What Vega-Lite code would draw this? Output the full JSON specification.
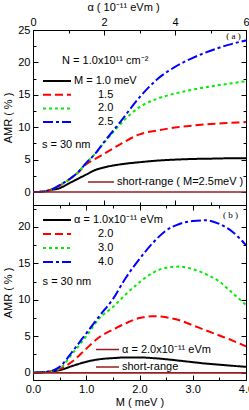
{
  "$schema": "https://vega.github.io/schema/vega-lite/v6.json",
  "padding": {"left": 2, "top": 0, "right": 0, "bottom": 0},
  "spacing": 0,
  "bounds": "flush",
  "config": {
    "font": "Liberation Sans",
    "view": {"stroke": "black", "strokeWidth": 1},
    "axis": {"labelFontSize": 11, "titleFontSize": 11, "titleFontWeight": "normal", "grid": false, "domain": false, "labelFlush": false, "labelColor": "black", "titleColor": "black", "tickColor": "black", "labelOverlap": false},
    "legend": {"labelFontSize": 11, "labelColor": "black", "padding": 0, "symbolType": "stroke", "symbolStrokeWidth": 2, "clipHeight": 11}
  },
  "vconcat": [
    {
      "width": 213,
      "height": 175,
      "layer": [
        {
          "data": {"values": [
            {"a":0,"v":0,"M":"1.0"},{"a":0.25,"v":0.05,"M":"1.0"},{"a":0.5,"v":0.3,"M":"1.0"},{"a":0.75,"v":0.6,"M":"1.0"},{"a":1,"v":1.3,"M":"1.0"},{"a":1.25,"v":2.0,"M":"1.0"},{"a":1.5,"v":2.7,"M":"1.0"},{"a":1.75,"v":3.4,"M":"1.0"},{"a":2,"v":3.8,"M":"1.0"},{"a":2.5,"v":4.3,"M":"1.0"},{"a":3,"v":4.6,"M":"1.0"},{"a":3.5,"v":4.85,"M":"1.0"},{"a":4,"v":5.0,"M":"1.0"},{"a":4.5,"v":5.1,"M":"1.0"},{"a":5,"v":5.15,"M":"1.0"},{"a":5.5,"v":5.2,"M":"1.0"},{"a":6,"v":5.2,"M":"1.0"},
            {"a":0,"v":0,"M":"1.5"},{"a":0.25,"v":0.05,"M":"1.5"},{"a":0.5,"v":0.35,"M":"1.5"},{"a":0.75,"v":1.0,"M":"1.5"},{"a":1,"v":1.85,"M":"1.5"},{"a":1.25,"v":2.9,"M":"1.5"},{"a":1.5,"v":4.3,"M":"1.5"},{"a":1.75,"v":5.1,"M":"1.5"},{"a":2,"v":5.9,"M":"1.5"},{"a":2.5,"v":7.5,"M":"1.5"},{"a":3,"v":8.9,"M":"1.5"},{"a":3.5,"v":9.5,"M":"1.5"},{"a":4,"v":9.95,"M":"1.5"},{"a":4.5,"v":10.25,"M":"1.5"},{"a":5,"v":10.5,"M":"1.5"},{"a":5.5,"v":10.65,"M":"1.5"},{"a":6,"v":10.8,"M":"1.5"},
            {"a":0,"v":0,"M":"2.0"},{"a":0.25,"v":0.05,"M":"2.0"},{"a":0.5,"v":0.35,"M":"2.0"},{"a":0.75,"v":1.05,"M":"2.0"},{"a":1,"v":1.9,"M":"2.0"},{"a":1.25,"v":2.95,"M":"2.0"},{"a":1.5,"v":4.5,"M":"2.0"},{"a":1.75,"v":5.9,"M":"2.0"},{"a":2,"v":7.6,"M":"2.0"},{"a":2.25,"v":9.2,"M":"2.0"},{"a":2.5,"v":10.7,"M":"2.0"},{"a":3,"v":13.1,"M":"2.0"},{"a":3.5,"v":14.4,"M":"2.0"},{"a":4,"v":15.2,"M":"2.0"},{"a":4.5,"v":15.8,"M":"2.0"},{"a":5,"v":16.3,"M":"2.0"},{"a":5.5,"v":16.7,"M":"2.0"},{"a":6,"v":17.1,"M":"2.0"},
            {"a":0,"v":0,"M":"2.5"},{"a":0.25,"v":0.05,"M":"2.5"},{"a":0.5,"v":0.35,"M":"2.5"},{"a":0.75,"v":1.05,"M":"2.5"},{"a":1,"v":1.9,"M":"2.5"},{"a":1.25,"v":2.95,"M":"2.5"},{"a":1.5,"v":4.5,"M":"2.5"},{"a":1.75,"v":5.9,"M":"2.5"},{"a":2,"v":7.7,"M":"2.5"},{"a":2.25,"v":9.4,"M":"2.5"},{"a":2.5,"v":11.1,"M":"2.5"},{"a":2.75,"v":12.9,"M":"2.5"},{"a":3,"v":14.6,"M":"2.5"},{"a":3.5,"v":17.4,"M":"2.5"},{"a":4,"v":19.3,"M":"2.5"},{"a":4.5,"v":20.7,"M":"2.5"},{"a":5,"v":21.8,"M":"2.5"},{"a":5.5,"v":22.7,"M":"2.5"},{"a":6,"v":23.4,"M":"2.5"}
          ]},
          "mark": {"type": "line", "strokeWidth": 2, "interpolate": "monotone", "clip": true},
          "encoding": {
            "x": {"field": "a", "type": "quantitative", "scale": {"domain": [0, 6], "nice": false, "zero": false},
              "axis": {"orient": "top", "title": "α ( 10⁻¹¹ eVm )", "values": [0,1,2,3,4,5,6], "labelExpr": "datum.value % 2 === 0 ? datum.label : ''", "tickSize": {"condition": {"test": "datum.value % 2 === 0", "value": -5}, "value": -3}, "labelPadding": 8, "titlePadding": 2, "titleX": 90}},
            "y": {"field": "v", "type": "quantitative", "scale": {"domain": [-2, 25], "nice": false, "zero": false},
              "axis": {"orient": "left", "title": "AMR ( % )", "values": [0,2.5,5,7.5,10,12.5,15,17.5,20,22.5,25], "labelExpr": "datum.value % 5 === 0 ? datum.label : ''", "tickSize": {"condition": {"test": "datum.value % 5 === 0", "value": -5}, "value": -3}, "labelPadding": 8, "titlePadding": 4}},
            "color": {"field": "M", "type": "nominal", "scale": {"domain": ["1.0","1.5","2.0","2.5"], "range": ["#000000","#ff0000","#00ee00","#0000ff"]},
              "legend": {"title": null, "orient": "none", "legendX": 9, "legendY": 45.5, "symbolSize": 784, "labelOffset": 2, "rowPadding": 1.7, "labelExpr": "datum.label == '1.0' ? 'M = 1.0 meV' : '⠀⠀⠀' + datum.label"}},
            "strokeDash": {"field": "M", "type": "nominal", "scale": {"domain": ["1.0","1.5","2.0","2.5"], "range": [[1,0],[8,4],[3,3],[10,3,3,3]]},
              "legend": {"title": null, "orient": "none", "legendX": 9, "legendY": 45.5, "symbolSize": 784, "labelOffset": 2, "rowPadding": 1.7, "labelExpr": "datum.label == '1.0' ? 'M = 1.0 meV' : '⠀⠀⠀' + datum.label"}}
          }
        },
        {
          "data": {"values": [
            {"a":0,"v":0,"s":"short-range ( M=2.5meV )"},{"a":6,"v":0,"s":"short-range ( M=2.5meV )"}
          ]},
          "mark": {"type": "line", "strokeWidth": 1.5},
          "encoding": {
            "x": {"field": "a", "type": "quantitative",
              "axis": {"orient": "bottom", "title": null, "labels": false, "values": [0,1,2,3,4,5,6], "tickSize": {"condition": {"test": "datum.value % 2 === 0", "value": -5}, "value": -3}}},
            "y": {"field": "v", "type": "quantitative",
              "axis": {"orient": "right", "title": null, "labels": false, "values": [0,2.5,5,7.5,10,12.5,15,17.5,20,22.5,25], "tickSize": {"condition": {"test": "datum.value % 5 === 0", "value": -5}, "value": -3}}},
            "color": {"field": "s", "type": "nominal", "scale": {"range": ["#961e1e"]},
              "legend": {"title": null, "orient": "none", "legendX": 54, "legendY": 146.5, "symbolSize": 676, "labelOffset": 2, "symbolStrokeWidth": 1.5}}
          }
        },
        {
          "data": {"values": [{"t": "N = 1.0x10¹¹ cm⁻²"}]},
          "mark": {"type": "text", "align": "left", "baseline": "middle", "fontSize": 11},
          "encoding": {"text": {"field": "t"}, "x": {"datum": 0.82, "axis": null}, "y": {"datum": 20.2, "axis": null}}
        },
        {
          "data": {"values": [{"t": "s = 30 nm"}]},
          "mark": {"type": "text", "align": "left", "baseline": "middle", "fontSize": 11},
          "encoding": {"text": {"field": "t"}, "x": {"datum": 0.25, "axis": null}, "y": {"datum": 7.3, "axis": null}}
        },
        {
          "data": {"values": [{"t": "( a )"}]},
          "mark": {"type": "text", "align": "right", "baseline": "middle", "fontSize": 9, "font": "Liberation Serif"},
          "encoding": {"text": {"field": "t"}, "x": {"datum": 5.85, "axis": null}, "y": {"datum": 24.1, "axis": null}}
        }
      ],
      "resolve": {"scale": {"color": "independent", "strokeDash": "independent"}, "axis": {"x": "independent", "y": "independent"}}
    },
    {
      "width": 213,
      "height": 175,
      "layer": [
        {
          "data": {"values": [
            {"m":0,"v":0,"al":"1.0"},{"m":0.25,"v":0.1,"al":"1.0"},{"m":0.5,"v":0.35,"al":"1.0"},{"m":0.75,"v":0.95,"al":"1.0"},{"m":1,"v":1.5,"al":"1.0"},{"m":1.25,"v":1.85,"al":"1.0"},{"m":1.5,"v":2.0,"al":"1.0"},{"m":1.75,"v":2.1,"al":"1.0"},{"m":2,"v":2.1,"al":"1.0"},{"m":2.25,"v":2.0,"al":"1.0"},{"m":2.5,"v":1.85,"al":"1.0"},{"m":2.75,"v":1.65,"al":"1.0"},{"m":3,"v":1.45,"al":"1.0"},{"m":3.25,"v":1.25,"al":"1.0"},{"m":3.5,"v":1.1,"al":"1.0"},{"m":3.75,"v":0.95,"al":"1.0"},{"m":4,"v":0.8,"al":"1.0"},
            {"m":0,"v":0,"al":"2.0"},{"m":0.25,"v":0.1,"al":"2.0"},{"m":0.5,"v":0.5,"al":"2.0"},{"m":0.75,"v":1.6,"al":"2.0"},{"m":1,"v":3.3,"al":"2.0"},{"m":1.25,"v":4.9,"al":"2.0"},{"m":1.5,"v":5.9,"al":"2.0"},{"m":1.75,"v":6.8,"al":"2.0"},{"m":2,"v":7.5,"al":"2.0"},{"m":2.25,"v":7.75,"al":"2.0"},{"m":2.5,"v":7.6,"al":"2.0"},{"m":2.75,"v":7.2,"al":"2.0"},{"m":3,"v":6.5,"al":"2.0"},{"m":3.25,"v":5.8,"al":"2.0"},{"m":3.5,"v":5.1,"al":"2.0"},{"m":3.75,"v":4.4,"al":"2.0"},{"m":4,"v":3.6,"al":"2.0"},
            {"m":0,"v":0,"al":"3.0"},{"m":0.25,"v":0.1,"al":"3.0"},{"m":0.5,"v":0.6,"al":"3.0"},{"m":0.75,"v":2.7,"al":"3.0"},{"m":1,"v":5.0,"al":"3.0"},{"m":1.25,"v":7.5,"al":"3.0"},{"m":1.5,"v":9.0,"al":"3.0"},{"m":1.75,"v":10.8,"al":"3.0"},{"m":2,"v":12.4,"al":"3.0"},{"m":2.25,"v":13.7,"al":"3.0"},{"m":2.5,"v":14.4,"al":"3.0"},{"m":2.75,"v":14.55,"al":"3.0"},{"m":3,"v":14.2,"al":"3.0"},{"m":3.25,"v":13.5,"al":"3.0"},{"m":3.5,"v":12.5,"al":"3.0"},{"m":3.75,"v":10.9,"al":"3.0"},{"m":4,"v":9.3,"al":"3.0"},
            {"m":0,"v":0,"al":"4.0"},{"m":0.25,"v":0.1,"al":"4.0"},{"m":0.5,"v":0.8,"al":"4.0"},{"m":0.75,"v":3.0,"al":"4.0"},{"m":1,"v":5.4,"al":"4.0"},{"m":1.25,"v":7.8,"al":"4.0"},{"m":1.5,"v":10.1,"al":"4.0"},{"m":1.75,"v":13.1,"al":"4.0"},{"m":2,"v":15.6,"al":"4.0"},{"m":2.25,"v":17.8,"al":"4.0"},{"m":2.5,"v":19.5,"al":"4.0"},{"m":2.75,"v":20.4,"al":"4.0"},{"m":3,"v":20.8,"al":"4.0"},{"m":3.25,"v":20.9,"al":"4.0"},{"m":3.5,"v":20.4,"al":"4.0"},{"m":3.75,"v":19.3,"al":"4.0"},{"m":4,"v":17.5,"al":"4.0"}
          ]},
          "mark": {"type": "line", "strokeWidth": 2, "interpolate": "monotone", "clip": true},
          "encoding": {
            "x": {"field": "m", "type": "quantitative", "scale": {"domain": [0, 4], "nice": false, "zero": false},
              "axis": {"orient": "bottom", "title": "M ( meV )", "values": [0,0.5,1,1.5,2,2.5,3,3.5,4], "labelExpr": "datum.value % 1 === 0 ? datum.label : ''", "tickSize": {"condition": {"test": "datum.value % 1 === 0", "value": -5}, "value": -3}, "labelPadding": 8, "titlePadding": 0}},
            "y": {"field": "v", "type": "quantitative", "scale": {"domain": [-1, 23], "nice": false, "zero": false},
              "axis": {"orient": "left", "title": "AMR ( % )", "values": [0,2.5,5,7.5,10,12.5,15,17.5,20,22.5], "labelExpr": "datum.value % 5 === 0 ? datum.label : ''", "tickSize": {"condition": {"test": "datum.value % 5 === 0", "value": -5}, "value": -3}, "labelPadding": 8, "titlePadding": 4}},
            "color": {"field": "al", "type": "nominal", "scale": {"domain": ["1.0","2.0","3.0","4.0"], "range": ["#000000","#ff0000","#00ee00","#0000ff"]},
              "legend": {"title": null, "orient": "none", "legendX": 9, "legendY": 9.5, "symbolSize": 784, "labelOffset": 2, "rowPadding": 2, "labelExpr": "datum.label == '1.0' ? 'α = 1.0x10⁻¹¹ eVm' : '⠀⠀⠀' + datum.label"}},
            "strokeDash": {"field": "al", "type": "nominal", "scale": {"domain": ["1.0","2.0","3.0","4.0"], "range": [[1,0],[8,4],[3,3],[10,3,3,3]]},
              "legend": {"title": null, "orient": "none", "legendX": 9, "legendY": 9.5, "symbolSize": 784, "labelOffset": 2, "rowPadding": 2, "labelExpr": "datum.label == '1.0' ? 'α = 1.0x10⁻¹¹ eVm' : '⠀⠀⠀' + datum.label"}}
          }
        },
        {
          "data": {"values": [
            {"m":0,"v":0,"s":"α = 2.0x10⁻¹¹ eVm"},{"m":4,"v":0,"s":"α = 2.0x10⁻¹¹ eVm"},
            {"m":0,"v":0,"s":"short-range"},{"m":4,"v":0,"s":"short-range"}
          ]},
          "mark": {"type": "line", "strokeWidth": 1.5},
          "encoding": {
            "x": {"field": "m", "type": "quantitative",
              "axis": {"orient": "top", "title": null, "labels": false, "values": [0,0.5,1,1.5,2,2.5,3,3.5,4], "tickSize": {"condition": {"test": "datum.value % 1 === 0", "value": -5}, "value": -3}}},
            "y": {"field": "v", "type": "quantitative",
              "axis": {"orient": "right", "title": null, "labels": false, "values": [0,2.5,5,7.5,10,12.5,15,17.5,20,22.5], "tickSize": {"condition": {"test": "datum.value % 5 === 0", "value": -5}, "value": -3}}},
            "color": {"field": "s", "type": "nominal", "scale": {"domain": ["α = 2.0x10⁻¹¹ eVm", "short-range"], "range": ["#961e1e", "#961e1e"]},
              "legend": {"title": null, "orient": "none", "legendX": 62, "legendY": 139, "symbolSize": 529, "labelOffset": 2, "rowPadding": 5.6, "symbolStrokeWidth": 1.5}}
          }
        },
        {
          "data": {"values": [{"t": "s = 30 nm"}]},
          "mark": {"type": "text", "align": "left", "baseline": "middle", "fontSize": 11},
          "encoding": {"text": {"field": "t"}, "x": {"datum": 0.18, "axis": null}, "y": {"datum": 12.4, "axis": null}}
        },
        {
          "data": {"values": [{"t": "( b )"}]},
          "mark": {"type": "text", "align": "right", "baseline": "middle", "fontSize": 9, "font": "Liberation Serif"},
          "encoding": {"text": {"field": "t"}, "x": {"datum": 3.85, "axis": null}, "y": {"datum": 21.6, "axis": null}}
        }
      ],
      "resolve": {"scale": {"color": "independent", "strokeDash": "independent"}, "axis": {"x": "independent", "y": "independent"}}
    }
  ]
}
